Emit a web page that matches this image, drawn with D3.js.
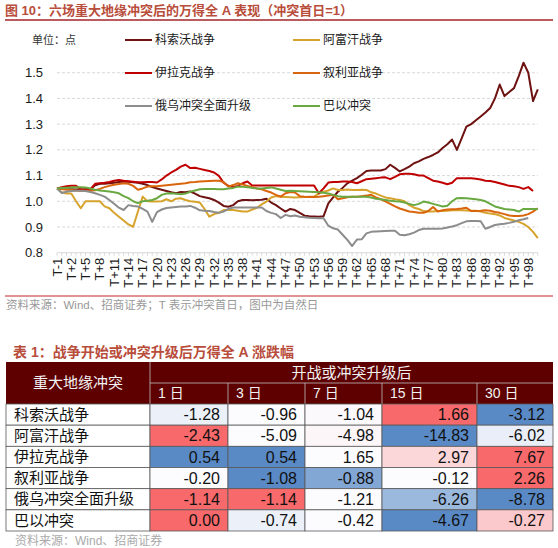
<!DOCTYPE html>
<html>
<head>
<meta charset="utf-8">
<script src="https://cdn.jsdelivr.net/npm/d3@7"></script>
<style>
  body { margin: 0; background: #fff; }
  svg { display: block; font-family: "Liberation Sans", Arial, "Noto Sans CJK SC", sans-serif; }
</style>
</head>
<body>
<svg width="558" height="548"></svg>
<script>
// ---- chart data ----
var categories = ["T-1", "T"];
for (var k = 1; k <= 100; k++) categories.push("T+" + k);

var seriesNames = ["科索沃战争", "阿富汗战争", "伊拉克战争", "叙利亚战争", "俄乌冲突全面升级", "巴以冲突"];

var kosovo = [1.05,1.048,1.047,1.047,1.046,1.046,1.047,1.047,1.062,1.068,
  1.068,1.07,1.072,1.075,1.077,1.076,1.074,1.072,1.068,1.063,
  1.055,1.05,1.045,1.04,1.035,1.031,1.036,1.035,1.038,1.03,
  1.02,1.016,1.012,1.005,0.995,0.982,0.979,0.985,1.0,1.005,
  1.005,1.004,1.005,1.006,1.01,0.995,0.985,0.972,0.96,0.97,
  0.966,0.955,0.944,0.942,0.941,0.94,0.942,0.992,1.015,1.037,
  1.052,1.07,1.08,1.09,1.103,1.118,1.12,1.12,1.12,1.125,
  1.142,1.13,1.116,1.125,1.135,1.148,1.155,1.165,1.172,1.18,
  1.19,1.207,1.222,1.24,1.2,1.245,1.29,1.3,1.315,1.33,
  1.345,1.363,1.4,1.454,1.409,1.425,1.44,1.487,1.539,1.5,
  1.39,1.435];

var afghan = [1.05,1.035,1.03,1.03,1.0,0.973,1.0,1.0,1.0,1.0,
  0.98,0.973,0.955,0.94,0.925,0.91,0.901,0.96,1.018,1.0,
  0.999,0.999,1.0,1.008,1.0,1.01,1.012,1.005,1.0,0.998,
  0.995,0.97,0.94,0.95,0.955,0.966,0.966,0.966,0.963,0.96,
  0.96,0.968,0.975,0.988,0.999,1.015,1.02,1.018,1.017,1.016,
  1.015,1.016,1.017,1.018,1.018,1.03,1.037,1.042,1.05,1.044,
  1.044,1.046,1.044,1.044,1.045,1.044,1.035,1.03,1.022,1.015,
  1.012,1.008,1.005,1.0,0.985,0.975,0.97,0.962,0.96,0.96,
  0.962,0.962,0.963,0.965,0.965,0.965,0.964,0.963,0.963,0.96,
  0.955,0.952,0.95,0.945,0.935,0.93,0.925,0.92,0.912,0.9,
  0.881,0.857];

var iraq = [1.05,1.055,1.058,1.06,1.06,1.047,1.046,1.046,1.068,1.07,
  1.072,1.075,1.08,1.083,1.08,1.078,1.076,1.074,1.074,1.075,
  1.075,1.073,1.085,1.1,1.112,1.122,1.135,1.142,1.129,1.13,
  1.126,1.122,1.118,1.112,1.099,1.072,1.06,1.055,1.06,1.07,
  1.077,1.061,1.061,1.061,1.061,1.061,1.061,1.061,1.061,1.061,
  1.061,1.061,1.061,1.061,1.061,1.031,1.05,1.073,1.075,1.075,
  1.077,1.077,1.075,1.07,1.078,1.086,1.088,1.09,1.092,1.093,
  1.086,1.095,1.105,1.107,1.107,1.105,1.1,1.1,1.09,1.08,
  1.077,1.072,1.066,1.072,1.09,1.09,1.09,1.09,1.088,1.085,
  1.08,1.079,1.075,1.07,1.065,1.06,1.058,1.055,1.048,1.055,
  1.04,null];

var syria = [1.05,1.048,1.046,1.044,1.042,1.041,1.041,1.041,1.043,1.048,
  1.055,1.06,1.064,1.067,1.07,1.068,1.06,1.045,1.05,1.057,
  1.058,1.058,1.06,1.062,1.064,1.066,1.068,1.07,1.074,1.075,
  1.077,1.078,1.079,1.08,1.08,1.075,1.057,1.063,1.07,1.065,
  1.06,1.055,1.05,1.047,1.04,1.034,1.025,1.018,1.031,1.036,
  1.034,1.02,1.018,1.017,1.017,1.018,1.02,1.022,1.025,1.008,
  1.012,1.016,1.018,1.018,1.02,1.022,1.025,1.015,1.008,1.0,
  0.99,0.98,0.972,0.966,0.96,0.958,0.955,0.955,0.962,0.978,
  0.96,0.965,0.968,0.969,0.97,0.972,0.975,0.962,0.962,0.963,
  0.965,0.963,0.958,0.955,0.95,0.945,0.943,0.943,0.945,0.95,
  0.96,0.973];

var russiaUkraine = [1.05,1.032,1.037,1.04,1.041,1.041,1.04,1.036,1.031,1.025,
  1.018,1.005,0.99,0.975,0.966,0.985,0.982,0.98,0.97,0.96,
  0.92,0.958,0.968,0.974,0.976,0.978,0.98,0.98,0.982,0.975,
  0.965,0.963,0.962,0.958,0.955,0.96,0.97,0.976,0.976,0.976,
  0.976,0.976,0.976,0.976,0.962,0.955,0.95,0.935,0.947,0.942,
  0.945,0.94,0.938,0.936,0.935,0.934,0.934,0.905,0.895,0.89,
  0.87,0.85,0.826,0.851,0.852,0.875,0.881,0.882,0.883,0.884,
  0.885,0.885,0.87,0.868,0.872,0.878,0.888,0.893,0.893,0.893,
  0.893,0.894,0.898,0.902,0.907,0.915,0.922,0.923,0.923,0.922,
  0.893,0.9,0.908,0.911,0.913,0.916,0.92,0.926,0.93,0.935,
  null,null];

var israelPalestine = [1.05,1.052,1.053,1.054,1.055,1.055,1.054,1.05,1.045,1.042,
  1.04,1.038,1.035,1.031,1.02,1.012,1.0,0.993,1.0,1.002,
  1.005,1.012,1.025,1.03,1.031,1.029,1.027,1.03,1.037,1.042,
  1.047,1.048,1.048,1.048,1.047,1.047,1.05,1.052,1.057,1.056,
  1.055,1.052,1.05,1.05,1.052,1.054,1.05,1.045,1.04,1.041,
  1.04,1.039,1.038,1.037,1.036,1.035,1.033,1.03,1.025,1.02,
  1.018,1.018,1.018,1.018,1.018,1.018,1.015,1.01,1.008,1.005,
  1.002,1.0,0.999,0.995,0.99,0.985,0.99,0.999,0.995,0.99,
  0.985,0.98,0.983,1.0,1.012,1.013,1.012,1.01,1.008,1.005,
  1.0,0.99,0.98,0.975,0.97,0.968,0.966,0.96,0.97,0.97,
  0.97,0.97];

var seriesValues = [kosovo, afghan, iraq, syria, russiaUkraine, israelPalestine];
var seriesColors = ["#6e1212", "#d6a32c", "#c00000", "#d9650c", "#8c8c8c", "#6aa842"];
var yTicks = [0.8, 0.9, 1.0, 1.1, 1.2, 1.3, 1.4, 1.5];

// ---- table data ----
var tableRows = ["科索沃战争", "阿富汗战争", "伊拉克战争", "叙利亚战争", "俄乌冲突全面升级", "巴以冲突"];
var tableCols = ["1 日", "3 日", "7 日", "15 日", "30 日"];
var tableValues = [
  ["-1.28", "-0.96", "-1.04", "1.66", "-3.12"],
  ["-2.43", "-5.09", "-4.98", "-14.83", "-6.02"],
  ["0.54", "0.54", "1.65", "2.97", "7.67"],
  ["-0.20", "-1.08", "-0.88", "-0.12", "2.26"],
  ["-1.14", "-1.14", "-1.21", "-6.26", "-8.78"],
  ["0.00", "-0.74", "-0.42", "-4.67", "-0.27"]
];
// conditional-format tone of each cell: -1 blue .. 0 white .. 1 red
var tableTones = [
  [-0.1, 0, 0.02, 1, -1],
  [1, 0, 0.04, -1, -0.12],
  [-1, -1, 0, 0.25, 1],
  [0, -1, -0.75, 0, 1],
  [1, 1, 0, -0.6, -1],
  [1, -0.1, 0, -1, 0.35]
];

var svg = d3.select("svg");
var titleColor = "#b84d3b";

// title
svg.append("text").attr("x", 5).attr("y", 15)
  .attr("font-size", 13).attr("font-weight", "bold").attr("fill", titleColor)
  .text("图 10：六场重大地缘冲突后的万得全 A 表现（冲突首日=1）");
svg.append("line").attr("x1", 5).attr("x2", 553).attr("y1", 20).attr("y2", 20)
  .attr("stroke", "#a3262a").attr("stroke-width", 1.5);

// scales
var x = d3.scalePoint().domain(categories).range([57, 537.8]);
var y = d3.scaleLinear().domain([0.8, 1.6]).range([252.7, 47]);

var g = svg.append("g");

// gridlines
g.selectAll(".grid").data(yTicks.slice(1)).enter().append("line")
  .attr("x1", 57).attr("x2", 538)
  .attr("y1", function(d) { return y(d); }).attr("y2", function(d) { return y(d); })
  .attr("stroke", "#d9d9d9").attr("stroke-dasharray", "3,2");

// y labels
g.selectAll(".ylab").data(yTicks).enter().append("text")
  .attr("x", 43).attr("y", function(d) { return y(d); }).attr("dy", "0.35em")
  .attr("text-anchor", "end").attr("font-size", 13).attr("fill", "#1a1a1a")
  .text(function(d) { return d.toFixed(1); });

// x axis line + category ticks
g.append("line").attr("x1", 57).attr("x2", 538).attr("y1", y(0.8)).attr("y2", y(0.8))
  .attr("stroke", "#d9d9d9");
g.selectAll(".xtick").data(categories).enter().append("line")
  .attr("x1", function(d) { return x(d); }).attr("x2", function(d) { return x(d); })
  .attr("y1", y(0.8)).attr("y2", y(0.8) + 3).attr("stroke", "#d9d9d9");

g.selectAll(".xlab").data(categories.filter(function(d, i) { return i % 3 === 0; }))
  .enter().append("text")
  .attr("transform", function(d) { return "translate(" + x(d) + "," + (y(0.8) + 5) + ")rotate(-90)"; })
  .attr("dy", "0.35em").attr("text-anchor", "end").attr("font-size", 13).attr("fill", "#1a1a1a")
  .text(function(d) { return d; });

// lines
var line = d3.line()
  .defined(function(d) { return d != null; })
  .x(function(d, i) { return x(categories[i]); })
  .y(function(d) { return y(d); });

g.selectAll(".series").data(seriesValues).enter().append("path")
  .attr("d", line).attr("fill", "none")
  .attr("stroke", function(d, i) { return seriesColors[i]; })
  .attr("stroke-width", 2).attr("stroke-linejoin", "round");

// unit + legend
svg.append("text").attr("x", 32).attr("y", 44).attr("font-size", 11).attr("fill", "#333")
  .text("单位：点");
var leg = svg.selectAll(".leg").data(seriesNames).enter().append("g")
  .attr("transform", function(d, i) { return "translate(" + (i % 2 ? 293 : 125) + "," + (40 + Math.floor(i / 2) * 33) + ")"; });
leg.append("line").attr("x1", 0).attr("x2", 27)
  .attr("stroke", function(d, i) { return seriesColors[i]; }).attr("stroke-width", 2);
leg.append("text").attr("x", 30).attr("dy", "0.35em").attr("font-size", 12).attr("fill", "#1a1a1a")
  .text(function(d) { return d; });

// source
svg.append("line").attr("x1", 5).attr("x2", 553).attr("y1", 296).attr("y2", 296)
  .attr("stroke", "#c0292b").attr("stroke-width", 1);
svg.append("text").attr("x", 6).attr("y", 309).attr("font-size", 11.5).attr("fill", "#999")
  .text("资料来源：Wind、招商证券；T 表示冲突首日，图中为自然日");

// ---- table ----
svg.append("text").attr("x", 13).attr("y", 357)
  .attr("font-size", 14).attr("font-weight", "bold").attr("fill", titleColor)
  .text("表 1：战争开始或冲突升级后万得全 A 涨跌幅");

var colEdges = [6, 150, 228, 305, 382, 477, 553];
var headTop = 362, headMid = 383, bodyTop = 404, bodyBottom = 531;
var rowBand = d3.scaleBand().domain(tableRows).range([bodyTop, bodyBottom]);
var tone = d3.scaleLinear().domain([-1, 0, 1]).range(["#5a8ac6", "#fcfcff", "#f8696b"]);
var head = svg.append("g");

head.append("rect").attr("x", colEdges[0]).attr("y", headTop)
  .attr("width", colEdges[6] - colEdges[0]).attr("height", bodyTop - headTop)
  .attr("fill", "#5e0000");
head.append("line").attr("x1", colEdges[1]).attr("x2", colEdges[1]).attr("y1", headTop).attr("y2", bodyTop)
  .attr("stroke", "#bfbfbf").attr("stroke-width", 0.8);
head.append("line").attr("x1", colEdges[1]).attr("x2", colEdges[6]).attr("y1", headMid).attr("y2", headMid)
  .attr("stroke", "#bfbfbf").attr("stroke-width", 0.8);
head.selectAll(".hsep").data(colEdges.slice(2, 6)).enter().append("line")
  .attr("x1", function(d) { return d; }).attr("x2", function(d) { return d; })
  .attr("y1", headMid).attr("y2", bodyTop).attr("stroke", "#bfbfbf").attr("stroke-width", 0.8);
head.append("text").attr("x", (colEdges[0] + colEdges[1]) / 2).attr("y", (headTop + bodyTop) / 2)
  .attr("dy", "0.35em").attr("text-anchor", "middle").attr("font-size", 15).attr("fill", "#f2f2f2")
  .text("重大地缘冲突");
head.append("text").attr("x", (colEdges[1] + colEdges[6]) / 2).attr("y", (headTop + headMid) / 2)
  .attr("dy", "0.35em").attr("text-anchor", "middle").attr("font-size", 15).attr("fill", "#f2f2f2")
  .text("开战或冲突升级后");
head.selectAll(".hcol").data(tableCols).enter().append("text")
  .attr("x", function(d, i) { return colEdges[i + 1] + 8; }).attr("y", (headMid + bodyTop) / 2)
  .attr("dy", "0.35em").attr("font-size", 14).attr("fill", "#f2f2f2")
  .text(function(d) { return d; });

var rows = svg.selectAll(".row").data(tableRows).enter().append("g")
  .attr("transform", function(d) { return "translate(0," + rowBand(d) + ")"; });
rows.append("rect").attr("x", colEdges[0]).attr("width", colEdges[1] - colEdges[0])
  .attr("height", rowBand.bandwidth()).attr("fill", "#fff").attr("stroke", "#595959").attr("stroke-width", 0.8);
rows.append("text").attr("x", colEdges[0] + 8).attr("y", rowBand.bandwidth() / 2).attr("dy", "0.35em")
  .attr("font-size", 15).attr("fill", "#111").text(function(d) { return d; });

rows.each(function(r, ri) {
  var cells = d3.select(this).selectAll(".cell").data(tableValues[ri]).enter().append("g");
  cells.append("rect")
    .attr("x", function(d, ci) { return colEdges[ci + 1]; })
    .attr("width", function(d, ci) { return colEdges[ci + 2] - colEdges[ci + 1]; })
    .attr("height", rowBand.bandwidth())
    .attr("fill", function(d, ci) { return tone(tableTones[ri][ci]); })
    .attr("stroke", "#595959").attr("stroke-width", 0.8);
  cells.append("text")
    .attr("x", function(d, ci) { return colEdges[ci + 2] - 8; })
    .attr("y", rowBand.bandwidth() / 2).attr("dy", "0.36em")
    .attr("text-anchor", "end").attr("font-size", 16).attr("fill", "#111")
    .text(function(d) { return d; });
});

svg.append("text").attr("x", 15).attr("y", 545).attr("font-size", 12).attr("fill", "#aaa")
  .text("资料来源：Wind、招商证券");
</script>
</body>
</html>
